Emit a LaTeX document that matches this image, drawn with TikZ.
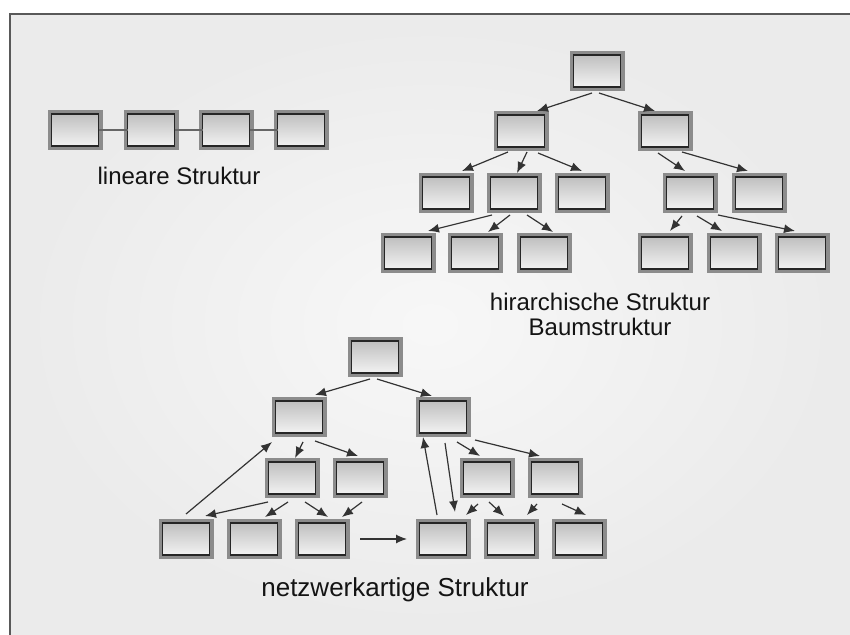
\documentclass[tikz,border=0pt]{standalone}
\usepackage{fontspec}
\setmainfont{Liberation Sans}
\usetikzlibrary{arrows.meta,calc}
\begin{document}
\begin{tikzpicture}[x=0.5pt,y=-0.5pt,
  box/.style={draw=black!85, line width=0.8pt, minimum width=23.5pt, minimum height=16pt, inner sep=0pt, outer sep=0pt,
    top color=black!25, bottom color=black!5, preaction={draw=black!45, line width=4pt}},
  arr/.style={draw=black!80, line width=0.6pt, -{Latex[length=5.5pt,width=4.5pt]}},
  lnk/.style={draw=black!60, line width=0.6pt},
  lbl/.style={font=\fontsize{12}{12.5}\selectfont, align=center, text=black!92}]
\useasboundingbox (0,0) rectangle (850,635);
\shade[inner color=black!3, outer color=black!8] (10,14) rectangle (850,635);
\draw[black!65, line width=1pt] (10,635)--(10,14)--(850,14);
\node[box] (l1) at (75,130) {};
\node[box] (l2) at (151,130) {};
\node[box] (l3) at (226,130) {};
\node[box] (l4) at (301,130) {};
\draw[lnk] (l1)--(l2) (l2)--(l3) (l3)--(l4);
\node[lbl, anchor=base] (lin) at (179,185) {lineare Struktur};
\node[box] (t0) at (597,71) {};
\node[box] (t1) at (521,131) {};
\node[box] (t2) at (665,131) {};
\node[box] (t3) at (446,193) {};
\node[box] (t4) at (514,193) {};
\node[box] (t5) at (582,193) {};
\node[box] (t6) at (690,193) {};
\node[box] (t7) at (759,193) {};
\node[box] (t8) at (408,253) {};
\node[box] (t9) at (475,253) {};
\node[box] (t10) at (544,253) {};
\node[box] (t11) at (665,253) {};
\node[box] (t12) at (734,253) {};
\node[box] (t13) at (802,253) {};
\draw[arr] ($(t0)+(-5,22)$)--($(t1)+(16,-20)$);
\draw[arr] ($(t0)+(2,22)$)--($(t2)+(-10,-20)$);
\draw[arr] ($(t1)+(-13,21)$)--($(t3)+(16,-22)$);
\draw[arr] ($(t1)+(6,21)$)--($(t4)+(3,-20)$);
\draw[arr] ($(t1)+(17,22)$)--($(t5)+(0,-22)$);
\draw[arr] ($(t2)+(-7,22)$)--($(t6)+(-5,-22)$);
\draw[arr] ($(t2)+(17,21)$)--($(t7)+(-11,-22)$);
\draw[arr] ($(t4)+(-22,22)$)--($(t8)+(20,-22)$);
\draw[arr] ($(t4)+(-4,22)$)--($(t9)+(13,-21)$);
\draw[arr] ($(t4)+(13,22)$)--($(t10)+(9,-21)$);
\draw[arr] ($(t6)+(-8,23)$)--($(t11)+(5,-22)$);
\draw[arr] ($(t6)+(7,23)$)--($(t12)+(-12,-22)$);
\draw[arr] ($(t6)+(28,22)$)--($(t13)+(-7,-22)$);
\node[lbl] (hir) at (600,314) {hirarchische Struktur\\Baumstruktur};
\node[box] (n0) at (375,357) {};
\node[box] (n1) at (299,417) {};
\node[box] (n2) at (443,417) {};
\node[box] (n3) at (292,478) {};
\node[box] (n4) at (360,478) {};
\node[box] (n5) at (487,478) {};
\node[box] (n6) at (555,478) {};
\node[box] (n7) at (186,539) {};
\node[box] (n8) at (254,539) {};
\node[box] (n9) at (322,539) {};
\node[box] (n10) at (443,539) {};
\node[box] (n11) at (511,539) {};
\node[box] (n12) at (579,539) {};
\draw[arr] ($(n0)+(-5,22)$)--($(n1)+(16,-22)$);
\draw[arr] ($(n0)+(2,22)$)--($(n2)+(-11,-21)$);
\draw[arr] ($(n1)+(4,25)$)--($(n3)+(3,-20)$);
\draw[arr] ($(n1)+(16,24)$)--($(n4)+(-2,-22)$);
\draw[arr] ($(n7)+(0,-25)$)--($(n1)+(-27,25)$);
\draw[arr] ($(n3)+(-24,24)$)--($(n7)+(19,-23)$);
\draw[arr] ($(n3)+(-4,24)$)--($(n8)+(11,-22)$);
\draw[arr] ($(n3)+(13,24)$)--($(n9)+(6,-22)$);
\draw[arr] ($(n4)+(2,24)$)--($(n9)+(20,-22)$);
\draw[arr] ($(n9)+(38,0)$)--($(n10)+(-36,0)$);
\draw[arr] ($(n10)+(-6,-24)$)--($(n2)+(-20,20)$);
\draw[arr] ($(n2)+(2,26)$)--($(n10)+(12,-27)$);
\draw[arr] ($(n2)+(14,25)$)--($(n5)+(-7,-22)$);
\draw[arr] ($(n2)+(32,23)$)--($(n6)+(-15,-22)$);
\draw[arr] ($(n5)+(-9,26)$)--($(n10)+(23,-24)$);
\draw[arr] ($(n5)+(2,24)$)--($(n11)+(-7,-23)$);
\draw[arr] ($(n6)+(-18,26)$)--($(n11)+(16,-24)$);
\draw[arr] ($(n6)+(7,26)$)--($(n12)+(7,-24)$);
\node[lbl, font=\fontsize{13}{14}\selectfont, anchor=base] (net) at (395,596) {netzwerkartige Struktur};
\end{tikzpicture}
\end{document}
